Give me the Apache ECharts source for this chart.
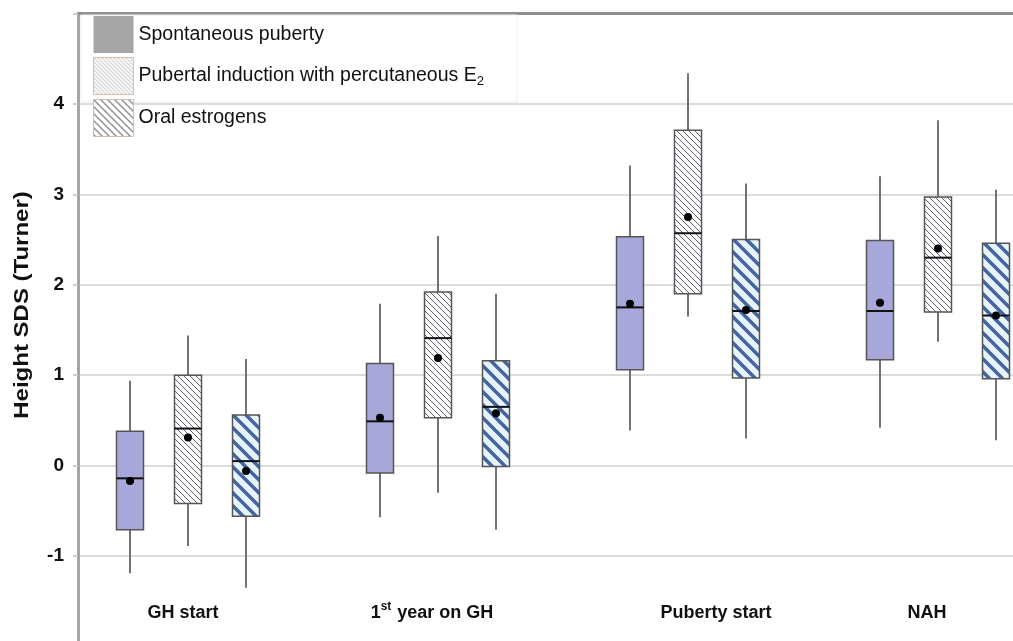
<!DOCTYPE html>
<html><head><meta charset="utf-8">
<script src="https://cdn.jsdelivr.net/npm/echarts@6/dist/echarts.min.js"></script>
<style>html,body{margin:0;padding:0;background:#fff}#c{width:1013px;height:641px}</style>
</head><body><div id="c"></div>
<script>
// ---- data ----
const categories = ['GH start', '1st year on GH', 'Puberty start', 'NAH'];
const seriesNames = ['Spontaneous puberty', 'Pubertal induction with percutaneous E2', 'Oral estrogens'];
// each entry: [min, Q1, median, Q3, max]
const spontaneousBox = [
  [-1.19, -0.71, -0.14, 0.38, 0.94],
  [-0.57, -0.08, 0.49, 1.13, 1.79],
  [0.39, 1.06, 1.75, 2.53, 3.32],
  [0.42, 1.17, 1.71, 2.49, 3.20]
];
const percutaneousBox = [
  [-0.89, -0.42, 0.41, 1.00, 1.44],
  [-0.30, 0.53, 1.41, 1.92, 2.54],
  [1.65, 1.90, 2.57, 3.71, 4.34],
  [1.37, 1.70, 2.30, 2.97, 3.82]
];
const oralBox = [
  [-1.35, -0.56, 0.05, 0.56, 1.18],
  [-0.71, -0.01, 0.65, 1.16, 1.90],
  [0.30, 0.97, 1.71, 2.50, 3.12],
  [0.28, 0.96, 1.66, 2.46, 3.05]
];
const spontaneousMean = [-0.17, 0.53, 1.79, 1.80];
const percutaneousMean = [0.31, 1.19, 2.75, 2.40];
const oralMean = [-0.06, 0.58, 1.72, 1.66];
const yTickLabels = [-1, 0, 1, 2, 3, 4];

// ---- styling helpers ----
const FONT = '"Liberation Sans", Arial, sans-serif';
function hatch(size, lineW, color, bg) {
  const c = document.createElement('canvas');
  c.width = size; c.height = size;
  const g = c.getContext('2d');
  if (bg) { g.fillStyle = bg; g.fillRect(0, 0, size, size); }
  g.strokeStyle = color; g.lineWidth = lineW;
  g.beginPath();
  for (let k = -1; k <= 1; k++) { g.moveTo(k * size - 1, -1); g.lineTo(k * size + size + 1, size + 1); }
  g.stroke();
  return { image: c, repeat: 'repeat' };
}
const fills = [
  '#a8a7d9',
  hatch(6, 1, '#5a6070', '#ffffff'),
  hatch(13, 3.5, '#45659f', '#e6f3fc')
];
const legendIcons = [
  { color: '#a6a6a6', borderWidth: 0 },
  { color: hatch(4, 0.8, '#9a9a9a', '#ffffff'), borderColor: '#cdbfb2', borderWidth: 1 },
  { color: hatch(7, 1, '#222222', '#ffffff'), borderColor: '#cdbfb2', borderWidth: 1 }
];
const offsets = [-0.232, 0, 0.232];
const BOX_W = 0.108;

function makeRender(offset, fill) {
  return function (params, api) {
    const x = api.value(0) + offset;
    const lo = api.coord([x, api.value(1)]);
    const q1 = api.coord([x, api.value(2)]);
    const med = api.coord([x, api.value(3)]);
    const q3 = api.coord([x, api.value(4)]);
    const hi = api.coord([x, api.value(5)]);
    const mean = api.coord([x, api.value(6)]);
    const w = api.size([BOX_W, 0])[0];
    const cx = q1[0];
    return {
      type: 'group', children: [
        { type: 'line', shape: { x1: cx, y1: hi[1], x2: cx, y2: lo[1] }, style: { stroke: '#737373', lineWidth: 2 } },
        { type: 'rect', shape: { x: cx - w / 2, y: q3[1], width: w, height: q1[1] - q3[1] }, style: { fill: fill, stroke: '#555', lineWidth: 1.5 } },
        { type: 'line', shape: { x1: cx - w / 2, y1: med[1], x2: cx + w / 2, y2: med[1] }, style: { stroke: '#111', lineWidth: 2 } },
        { type: 'circle', shape: { cx: cx, cy: mean[1], r: 4 }, style: { fill: '#000' } }
      ]
    };
  };
}
const boxes = [spontaneousBox, percutaneousBox, oralBox];
const means = [spontaneousMean, percutaneousMean, oralMean];
const series = seriesNames.map((name, s) => ({
  name: name,
  type: 'custom',
  renderItem: makeRender(offsets[s], fills[s]),
  itemStyle: { color: typeof fills[s] === 'string' ? fills[s] : '#888' },
  encode: { x: 0, y: [1, 2, 3, 4, 5, 6] },
  data: categories.map((c, i) => [i].concat(boxes[s][i], [means[s][i]])),
  z: 2
}));

function catLabel(v) {
  const name = categories[Math.round(v)];
  if (name === undefined) return '';
  const m = name.match(/^(\d+)(st|nd|rd|th)(\s.*)$/);
  if (m) return '{b|' + m[1] + '}{sup|' + m[2] + '}{b|' + m[3] + '}';
  return '{b|' + name + '}';
}
const labelNudge = [-0.02, -0.024, 0.112, -0.044];

const chart = echarts.init(document.getElementById('c'), null, { renderer: 'canvas' });
chart.setOption({
  animation: false,
  backgroundColor: '#ffffff',
  grid: { left: 78, right: 0, top: 13.5, height: 633, outerBoundsMode: 'none', containLabel: false },
  xAxis: [{
    type: 'value', min: -0.44, max: 3.3, position: 'bottom',
    axisLine: { show: false }, axisTick: { show: false }, splitLine: { show: false },
    axisLabel: {
      inside: true, margin: 24,
      customValues: categories.map((c, i) => i + labelNudge[i]),
      formatter: v => catLabel(v),
      rich: {
        b: { fontSize: 18, fontWeight: 'bold', fontFamily: FONT, color: '#111', lineHeight: 22, verticalAlign: 'bottom' },
        sup: { fontSize: 12, fontWeight: 'bold', fontFamily: FONT, color: '#111', lineHeight: 22, verticalAlign: 'top', padding: [0, 1, 8, 0] }
      }
    }
  }, {
    type: 'value', min: -0.44, max: 3.3, position: 'top',
    axisLine: { show: true, onZero: false, lineStyle: { color: '#8f8f8f', width: 3 } },
    axisTick: { show: false }, axisLabel: { show: false }, splitLine: { show: false }
  }],
  yAxis: {
    type: 'value', min: -2, max: 5, interval: 1,
    axisLine: { show: true, onZero: false, lineStyle: { color: '#a6a6a6', width: 3 } },
    axisTick: { show: true, length: 5, lineStyle: { color: '#cfcfcf', width: 2 } },
    splitLine: { show: true, lineStyle: { color: '#dcdcdc', width: 2 } },
    axisLabel: {
      margin: 14, fontSize: 19, fontWeight: 'bold', fontFamily: FONT, color: '#111',
      formatter: v => (yTickLabels.indexOf(v) >= 0 ? String(v) : '')
    }
  },
  legend: {
    orient: 'vertical', left: 93, top: 16, padding: 0, itemGap: 4,
    itemWidth: 40, itemHeight: 37, selectedMode: false, z: 10,
    data: seriesNames.map((n, i) => ({ name: n, icon: 'rect', itemStyle: legendIcons[i] })),
    formatter: n => {
      const s = String(n);
      const m = s.match(/^(.*E)(\d)$/);
      return m ? '{t|' + m[1] + '}{sub|' + m[2] + '}' : '{t|' + s + '}';
    },
    textStyle: {
      fontSize: 19.5, fontFamily: FONT, color: '#111',
      rich: {
        t: { fontSize: 19.5, fontFamily: FONT, color: '#111', lineHeight: 24 },
        sub: { fontSize: 13, fontFamily: FONT, color: '#111', lineHeight: 24, verticalAlign: 'bottom', padding: [6, 0, 0, 0] }
      }
    }
  },
  graphic: [
    { type: 'rect', z: 3, shape: { x: 81, y: 15, width: 436, height: 87 }, style: { fill: '#ffffff', stroke: '#eeeeee', lineWidth: 1 } },
    { type: 'text', z: 3, x: 22, y: 305, rotation: Math.PI / 2, scaleX: 1.2,
      style: { text: 'Height SDS (Turner)', font: 'bold 20px ' + FONT, fill: '#111', align: 'center', verticalAlign: 'middle' } }
  ],
  series: series
});
</script>
</body></html>
